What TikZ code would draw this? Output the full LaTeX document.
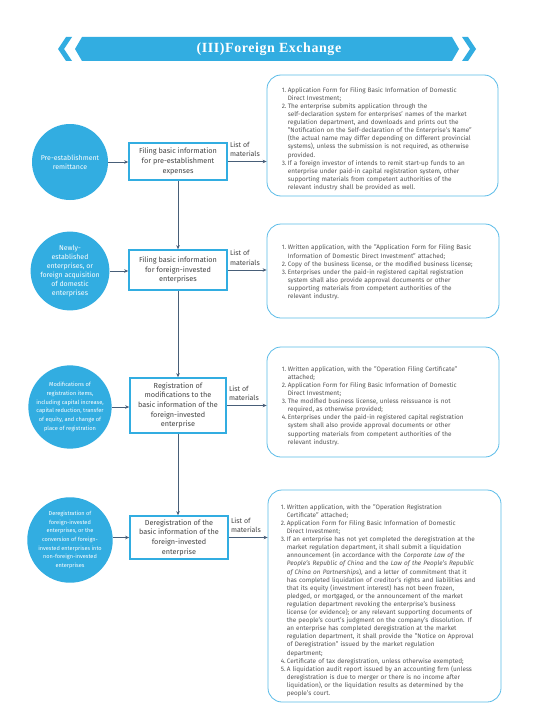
\documentclass[tikz,border=0pt]{standalone}
\usepackage{fontspec}
\setmainfont{Fira Sans}
\newfontfamily\titlefont[LetterSpace=4]{Liberation Serif}
\usetikzlibrary{arrows.meta}
\definecolor{cblue}{RGB}{50,173,225}
\definecolor{cframe}{RGB}{90,188,232}
\definecolor{carrow}{RGB}{72,94,120}
\definecolor{ctext}{RGB}{85,85,85}
\definecolor{cbox}{RGB}{68,68,68}
\newlength\hangw \setlength\hangw{6pt}
\newcommand{\nl}{\hfil\break}
\newcommand{\itm}[2]{\par\noindent\hangindent=\hangw\hangafter=1\makebox[\hangw][l]{#1}#2\par}
\begin{document}
\begin{tikzpicture}[x=1pt,y=-1pt,
  circ/.style={circle,fill=cblue,minimum size=76pt,inner sep=0,text=white,align=center},
  stepbox/.style={draw=cblue,line width=1.6pt,fill=white,inner sep=0,align=center,text=cbox,font=\fontsize{7.3}{9.7}\selectfont,minimum width=98pt},
  frame/.style={draw=cframe,line width=0.8pt,rounded corners=14pt,inner sep=0},
  list/.style={anchor=north west,inner sep=0,text width=228pt,align=left,text=ctext,font=\fontsize{6.4}{8.1}\selectfont},
  arr/.style={draw=carrow,line width=0.8pt,-{Stealth[length=4pt,width=3.5pt]}},
  lbl/.style={anchor=south west,inner sep=0,align=left,text=cbox,font=\fontsize{7}{9.5}\selectfont}
]
\useasboundingbox[fill=white] (0,0) rectangle (553,725);
% banner
\fill[cblue] (75,49) -- (82,37) -- (452,37) -- (459,49) -- (452,61) -- (82,61) -- cycle;
\fill[cblue] (58,49) -- (66,37) -- (72,37) -- (64,49) -- (72,61) -- (66,61) -- cycle;
\fill[cblue] (476,49) -- (468,37) -- (462,37) -- (470,49) -- (462,61) -- (468,61) -- cycle;
\node[text=white,font=\titlefont\bfseries\fontsize{14}{14}\selectfont] (title) at (269,49) {(III)Foreign Exchange};
% circles
\node[circ,font=\fontsize{7}{9}\selectfont] (c1) at (70,162) {Pre-establishment\\remittance};
\node[circ,font=\fontsize{7}{9}\selectfont] (c2) at (70,271) {Newly-\\established\\enterprises, or\\foreign acquisition\\of domestic\\enterprises};
\node[circ,font=\fontsize{5.7}{8.7}\selectfont] (c3) at (70,407) {Modifications of\\registration items,\\including capital increase,\\capital reduction, transfer\\of equity, and change of\\place of registration};
\node[circ,font=\fontsize{5.6}{8.7}\selectfont] (c4) at (70,540) {Deregistration of\\foreign-invested\\enterprises, or the\\conversion of foreign-\\invested enterprises into\\non-foreign-invested\\enterprises};
% step boxes
\node[stepbox,minimum height=37pt] (b1) at (178,161.5) {Filing basic information\\for pre-establishment\\expenses};
\node[stepbox,minimum height=40pt] (b2) at (178,270) {Filing basic information\\for foreign-invested\\enterprises};
\node[stepbox,minimum width=96pt,minimum height=55pt] (b3) at (178,405.5) {Registration of\\modifications to the\\basic information of the\\foreign-invested\\enterprise};
\node[stepbox,minimum height=43pt] (b4) at (179,537.5) {Deregistration of the\\basic information of the\\foreign-invested\\enterprise};
% frames
\node[frame,minimum width=231pt,minimum height=121pt] (t1) at (382.5,135.5) {};
\node[frame,minimum width=232pt,minimum height=94pt] (t2) at (383,271) {};
\node[frame,minimum width=232pt,minimum height=110pt] (t3) at (383,402) {};
\node[frame,minimum width=233pt,minimum height=212pt] (t4) at (384.5,596) {};
% lists
\node[list] (l1) at ([xshift=15pt,yshift=-9.3pt]t1.north west) {%
\itm{1.}{Application Form for Filing Basic Information of Domestic\nl Direct Investment;}
\itm{2.}{The enterprise submits application through the\nl self-declaration system for enterprises' names of the market\nl regulation department, and downloads and prints out the\nl "Notification on the Self-declaration of the Enterprise's Name"\nl (the actual name may differ depending on different provincial\nl systems), unless the submission is not required, as otherwise\nl provided.}
\itm{3.}{If a foreign investor of intends to remit start-up funds to an\nl enterprise under paid-in capital registration system, other\nl supporting materials from competent authorities of the\nl relevant industry shall be provided as well.}};
\node[list] (l2) at ([xshift=15pt,yshift=-18pt]t2.north west) {%
\itm{1.}{Written application, with the "Application Form for Filing Basic\nl Information of Domestic Direct Investment" attached;}
\itm{2.}{Copy of the business license, or the modified business license;}
\itm{3.}{Enterprises under the paid-in registered capital registration\nl system shall also provide approval documents or other\nl supporting materials from competent authorities of the\nl relevant industry.}};
\node[list] (l3) at ([xshift=15pt,yshift=-16.3pt]t3.north west) {%
\itm{1.}{Written application, with the "Operation Filing Certificate"\nl attached;}
\itm{2.}{Application Form for Filing Basic Information of Domestic\nl Direct Investment;}
\itm{3.}{The modified business license, unless reissuance is not\nl required, as otherwise provided;}
\itm{4.}{Enterprises under the paid-in registered capital registration\nl system shall also provide approval documents or other\nl supporting materials from competent authorities of the\nl relevant industry.}};
\node[list] (l4) at ([xshift=13pt,yshift=-11.3pt]t4.north west) {%
\itm{1.}{Written application, with the "Operation Registration\nl Certificate" attached;}
\itm{2.}{Application Form for Filing Basic Information of Domestic\nl Direct Investment;}
\itm{3.}{If an enterprise has not yet completed the deregistration at the\nl market regulation department, it shall submit a liquidation\nl announcement (in accordance with the \textit{Corporate Law of the}\nl \textit{People's Republic of China} and the \textit{Law of the People's Republic}\nl \textit{of China on Partnerships}), and a letter of commitment that it\nl has completed liquidation of creditor's rights and liabilities and\nl that its equity (investment interest) has not been frozen,\nl pledged, or mortgaged, or the announcement of the market\nl regulation department revoking the enterprise's business\nl license (or evidence); or any relevant supporting documents of\nl the people's court's judgment on the company's dissolution. If\nl an enterprise has completed deregistration at the market\nl regulation department, it shall provide the "Notice on Approval\nl of Deregistration" issued by the market regulation\nl department;}
\itm{4.}{Certificate of tax deregistration, unless otherwise exempted;}
\itm{5.}{A liquidation audit report issued by an accounting firm (unless\nl deregistration is due to merger or there is no income after\nl liquidation), or the liquidation results as determined by the\nl people's court.}};
% connectors
\draw[arr] (c1.east) -- (c1.east -| b1.west);
\draw[arr] (c2.east) -- (c2.east -| b2.west);
\draw[arr] (c3.east) -- (c3.east -| b3.west);
\draw[arr] (c4.east |- b4.west) -- (b4.west);
\draw[arr] (b1.east) -- (b1.east -| t1.west);
\draw[arr] (b2.east) -- (b2.east -| t2.west);
\draw[arr] (b3.east) -- (b3.east -| t3.west);
\draw[arr] (b4.east) -- (b4.east -| t4.west);
\node[lbl] (m1) at ([xshift=2pt,yshift=4.5pt]b1.east) {List of\\materials};
\node[lbl] (m2) at ([xshift=2pt,yshift=4.5pt]b2.east) {List of\\materials};
\node[lbl] (m3) at ([xshift=2pt,yshift=4.5pt]b3.east) {List of\\materials};
\node[lbl] (m4) at ([xshift=2pt,yshift=4.5pt]b4.east) {List of\\materials};
\draw[arr] (b1.south) -- (b2.north);
\draw[arr] (b2.south) -- (b3.north);
\draw[arr] (b3.south) -- (b3.south |- b4.north);
\end{tikzpicture}
\end{document}
